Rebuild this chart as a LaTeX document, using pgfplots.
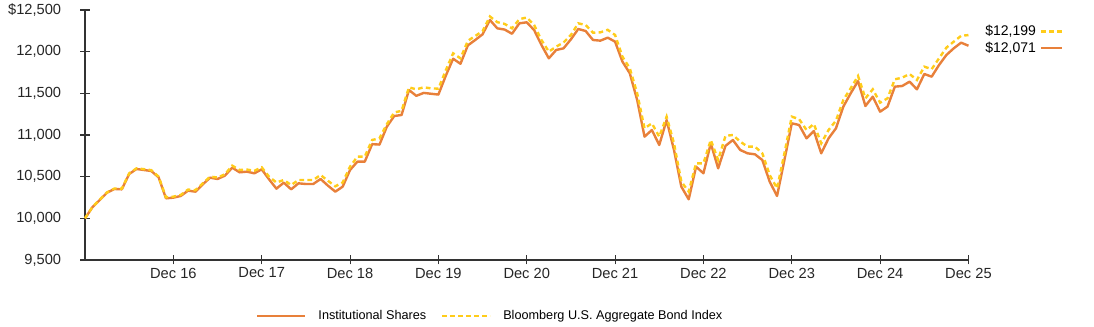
\documentclass[border=0pt]{standalone}
\usepackage{pgfplots}
\pgfplotsset{compat=1.18}
\usepackage{fontspec}
\setmainfont{Liberation Sans}
\definecolor{fundc}{HTML}{E8803A}
\definecolor{idxc}{HTML}{FFCC1A}
\definecolor{axc}{HTML}{333333}
\pgfplotstableread{
m fund idx
0 10000 10000
1 10132 10135
2 10220 10225
3 10308 10312
4 10352 10358
5 10348 10356
6 10532 10540
7 10592 10600
8 10580 10590
9 10568 10578
10 10492 10500
11 10240 10252
12 10248 10260
13 10268 10280
14 10332 10345
15 10320 10338
16 10408 10420
17 10488 10500
18 10472 10490
19 10512 10528
20 10608 10632
21 10552 10580
22 10560 10585
23 10540 10570
24 10588 10612
25 10468 10500
26 10356 10430
27 10428 10460
28 10348 10400
29 10420 10460
30 10412 10460
31 10412 10460
32 10472 10520
33 10392 10450
34 10320 10384
35 10380 10430
36 10580 10620
37 10680 10740
38 10680 10740
39 10890 10940
40 10885 10960
41 11100 11130
42 11228 11270
43 11240 11290
44 11540 11572
45 11470 11548
46 11505 11572
47 11495 11560
48 11485 11556
49 11710 11775
50 11915 11980
51 11855 11920
52 12075 12130
53 12140 12188
54 12208 12246
55 12380 12422
56 12280 12354
57 12265 12333
58 12215 12280
59 12340 12390
60 12352 12410
61 12260 12320
62 12080 12140
63 11920 12000
64 12020 12060
65 12040 12110
66 12148 12200
67 12272 12340
68 12248 12320
69 12140 12228
70 12132 12232
71 12168 12262
72 12120 12200
73 11880 11940
74 11740 11800
75 11420 11500
76 10980 11080
77 11060 11140
78 10880 10980
79 11180 11220
80 10820 10900
81 10380 10440
82 10228 10320
83 10620 10660
84 10540 10660
85 10900 10940
86 10600 10700
87 10870 10990
88 10940 11000
89 10820 10920
90 10780 10860
91 10768 10860
92 10700 10780
93 10440 10520
94 10268 10360
95 10700 10780
96 11140 11220
97 11120 11190
98 10960 11060
99 11048 11132
100 10780 10900
101 10960 11060
102 11080 11172
103 11340 11420
104 11500 11560
105 11648 11708
106 11348 11440
107 11460 11548
108 11280 11388
109 11340 11440
110 11580 11668
111 11588 11688
112 11640 11732
113 11548 11660
114 11732 11820
115 11700 11790
116 11840 11920
117 11960 12048
118 12040 12120
119 12108 12190
120 12071 12199
}\datatable
\begin{document}
\begin{tikzpicture}
\begin{axis}[name=ax, scale only axis, width=662.6pt, height=187.5pt,
  xmin=0, xmax=120, ymin=9500, ymax=12500,
  scaled y ticks=false, scaled x ticks=false,
  axis lines=left,
  axis line style={-, draw=axc, line width=1pt},
  xtick={12,24,...,120},
  xticklabels={Dec 16,Dec 17,Dec 18,Dec 19,Dec 20,Dec 21,Dec 22,Dec 23,Dec 24,Dec 25},
  ytick={9500,10000,...,12500},
  yticklabels={{9,500},{10,000},{10,500},{11,000},{11,500},{12,000},{\$12,500}},
  tick align=center, major tick length=6.75pt,
  tick style={draw=axc, line width=0.8pt},
  ticklabel style={font=\fontsize{11}{13}\selectfont, text=black!85},
  yticklabel style={xshift=-11pt},
  xticklabel style={yshift=1pt},
  clip=false,
  legend style={at={(0.459,-0.225)}, anchor=center, draw=none, fill=none,
    legend columns=2, font=\fontsize{9.5}{11}\selectfont,
    /tikz/every odd column/.append style={column sep=7pt},
    /tikz/every even column/.append style={column sep=9pt}},
  legend image code/.code={\draw[#1] (0pt,0pt) -- (36pt,0pt);},
]
\addplot[fundc, line width=1.8pt, line join=round] table[x=m, y=fund] {\datatable};
\addlegendentry{Institutional Shares}
\addplot[idxc, line width=1.8pt, dash pattern=on 3.5pt off 2.5pt] table[x=m, y=idx] {\datatable};
\addlegendentry{Bloomberg U.S. Aggregate Bond Index}
\node[anchor=east, inner sep=0pt, font=\fontsize{10.5}{12}\selectfont] at (axis cs:129.2,12240) {\$12,199};
\draw[idxc, dash pattern=on 3.5pt off 2.5pt, line width=1.8pt] (axis cs:129.9,12240) -- (axis cs:132.7,12240);
\node[anchor=east, inner sep=0pt, font=\fontsize{10.5}{12}\selectfont] at (axis cs:129.2,12045) {\$12,071};
\draw[fundc, line width=1.8pt] (axis cs:129.9,12045) -- (axis cs:132.7,12045);
\end{axis}
\pgfresetboundingbox
\useasboundingbox (ax.south west) ++(-63.75pt,-50.25pt) rectangle ++(820.5pt,245.25pt);
\end{tikzpicture}
\end{document}
